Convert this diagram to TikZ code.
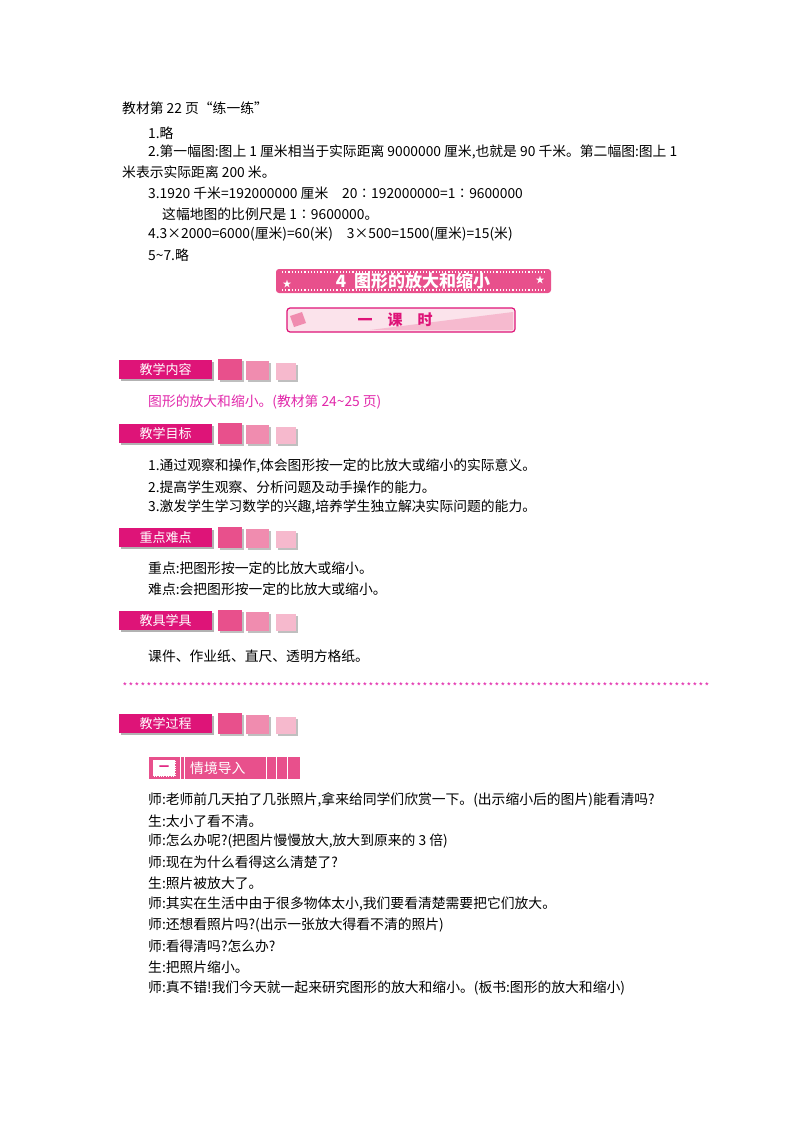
\documentclass[tikz,border=0pt]{standalone}
\usepackage{fontspec}
\setmainfont{Noto Sans CJK SC}
\usetikzlibrary{positioning}
\definecolor{hdpink}{RGB}{222,20,120}
\definecolor{sqa}{RGB}{232,80,140}
\definecolor{sqb}{RGB}{240,140,175}
\definecolor{sqc}{RGB}{246,185,205}
\definecolor{txtpink}{RGB}{225,40,170}
\tikzset{
  line/.style={anchor=west, inner sep=0pt, font=\fontsize{13.8}{13.8}\selectfont},
  header/.style={anchor=west, fill=hdpink, text=white, minimum width=93pt, minimum height=19pt, inner sep=0pt, font=\fontsize{13}{13}\selectfont},
}
\newcommand{\sectionhead}[3]{%
  \fill[gray!60] (#1+2,#2+2) rectangle (#1+95,#2+21);
  \node[header] (#3) at (#1,#2+9.5) {#3};
  \fill[gray!50] (#1+101,#2+1) rectangle (#1+125,#2+22);
  \fill[sqa] (#1+99,#2-1) rectangle (#1+123,#2+20);
  \fill[gray!50] (#1+129,#2+3) rectangle (#1+152,#2+22);
  \fill[sqb] (#1+127,#2+1) rectangle (#1+150,#2+20);
  \fill[gray!50] (#1+159,#2+5) rectangle (#1+179,#2+22);
  \fill[sqc] (#1+157,#2+3) rectangle (#1+177,#2+20);
}
\begin{document}
\begin{tikzpicture}[x=1pt,y=-1pt]
\useasboundingbox (0,0) rectangle (800,1132);

% answers
\node[line] (t0) at (122,108) {教材第 22 页“练一练”};
\node[line] (t1) at (148,133) {1.略};
\node[line] (t2) at (148,152) {2.第一幅图:图上 1 厘米相当于实际距离 9000000 厘米,也就是 90 千米。第二幅图:图上 1};
\node[line] (t3) at (122,172) {米表示实际距离 200 米。};
\node[line] (t4) at (148,193) {3.1920 千米=192000000 厘米\quad 20∶192000000=1∶9600000};
\node[line] (t5) at (162,214) {这幅地图的比例尺是 1∶9600000。};
\node[line] (t6) at (148,234) {4.3×2000=6000(厘米)=60(米)\quad 3×500=1500(厘米)=15(米)};
\node[line] (t7) at (148,255) {5\textasciitilde 7.略};

% title banner
\fill[rounded corners=3pt, sqa] (276,269) rectangle (551,293);
\draw[white, dotted, line width=1.2pt] (282,272) -- (545,272) (282,290) -- (545,290);
\node[font=\fontsize{17}{17}\selectfont\bfseries, text=white] (title) at (413,281) {4\ \ 图形的放大和缩小};
\node[text=white, font=\fontsize{9}{9}\selectfont] at (287,284) {★};
\node[text=white, font=\fontsize{9}{9}\selectfont] at (540,280) {★};
\draw[hdpink, line width=1.2pt, rounded corners=3pt, fill=sqc!40] (287,308) rectangle (515,332);
\fill[sqb] (290,316) -- (302,312) -- (306,323) -- (294,327) -- cycle;
\fill[sqb!60] (370,330) -- (513,312) -- (513,330) -- cycle;
\node[font=\fontsize{15}{15}\selectfont\bfseries, text=hdpink] (lesson) at (395,320) {一\quad 课\quad 时};

% sections
\sectionhead{119}{360}{教学内容}
\node[line, text=txtpink] (c1) at (148,402) {图形的放大和缩小。(教材第 24\textasciitilde 25 页)};

\sectionhead{119}{424}{教学目标}
\node[line] (g1) at (148,466) {1.通过观察和操作,体会图形按一定的比放大或缩小的实际意义。};
\node[line] (g2) at (148,487) {2.提高学生观察、分析问题及动手操作的能力。};
\node[line] (g3) at (148,507) {3.激发学生学习数学的兴趣,培养学生独立解决实际问题的能力。};

\sectionhead{119}{528}{重点难点}
\node[line] (k1) at (148,568) {重点:把图形按一定的比放大或缩小。};
\node[line] (k2) at (148,589) {难点:会把图形按一定的比放大或缩小。};

\sectionhead{119}{611}{教具学具}
\node[line] (m1) at (148,656) {课件、作业纸、直尺、透明方格纸。};

% star rule
\foreach \i in {0,...,97} \node[text=txtpink, inner sep=0pt, font=\fontsize{10}{10}\selectfont] at (125+6*\i,687) {*};

\sectionhead{119}{714}{教学过程}

% step box
\fill[sqa] (149,757) rectangle (300,779);
\draw[white, dotted, fill=white] (153,760) rectangle (175,776);
\node[text=hdpink, font=\bfseries] at (164,768) {一};
\draw[white, line width=1pt] (180,757) -- (180,779) (184,757) -- (184,779) (266,757) -- (266,779) (276,757) -- (276,779) (287,757) -- (287,779);
\node[line, text=white] (s1) at (190,768) {情境导入};

% dialogue
\node[line] (d1) at (148,800) {师:老师前几天拍了几张照片,拿来给同学们欣赏一下。(出示缩小后的图片)能看清吗?};
\node[line] (d2) at (148,821) {生:太小了看不清。};
\node[line] (d3) at (148,841) {师:怎么办呢?(把图片慢慢放大,放大到原来的 3 倍)};
\node[line] (d4) at (148,862) {师:现在为什么看得这么清楚了?};
\node[line] (d5) at (148,883) {生:照片被放大了。};
\node[line] (d6) at (148,904) {师:其实在生活中由于很多物体太小,我们要看清楚需要把它们放大。};
\node[line] (d7) at (148,925) {师:还想看照片吗?(出示一张放大得看不清的照片)};
\node[line] (d8) at (148,946) {师:看得清吗?怎么办?};
\node[line] (d9) at (148,967) {生:把照片缩小。};
\node[line] (d10) at (148,988) {师:真不错!我们今天就一起来研究图形的放大和缩小。(板书:图形的放大和缩小)};
\end{tikzpicture}
\end{document}
